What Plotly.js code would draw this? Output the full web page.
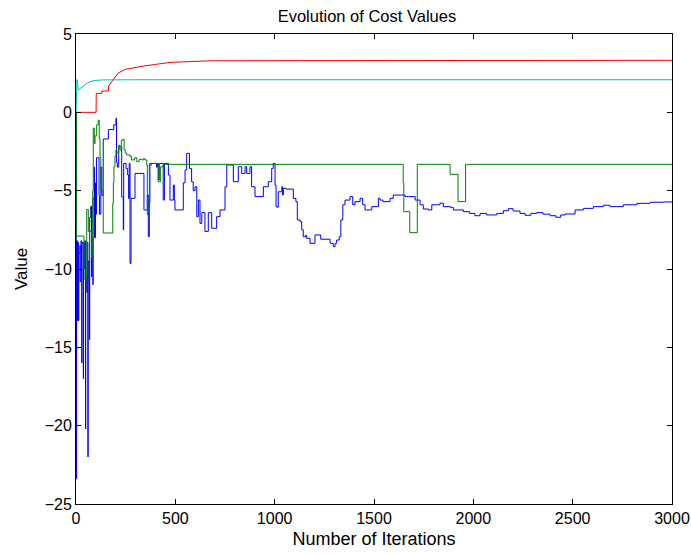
<!DOCTYPE html>
<html>
<head>
<meta charset="utf-8">
<script src="https://cdn.plot.ly/plotly-3.0.1.min.js"></script>
<style>html,body{margin:0;padding:0;background:#fff;}#chart{width:691px;height:554px;}</style>
</head>
<body>
<div id="chart"></div>
<script>
// Blue series (stepwise, value holds until next iteration)
const blueIter = [0,1,3,7,8,13,14,20,21,25,29,30,37,38,43,48,49,55,56,60,61,66,68,69,74,78,80,85,86,92,93,98,100,103,116,118,125,130,137,163,190,201,204,208,215,230,238,240,252,260,265,268,272,277,297,342,359,364,369,372,405,410,414,419,439,445,465,473,490,495,498,540,549,557,571,582,590,599,608,616,624,633,649,666,683,708,725,750,759,792,817,834,851,859,876,884,901,943,968,985,993,1002,1007,1013,1018,1036,1040,1044,1057,1094,1107,1114,1128,1136,1144,1155,1161,1178,1203,1232,1279,1295,1304,1312,1325,1333,1343,1354,1379,1393,1404,1430,1443,1455,1489,1522,1530,1545,1581,1597,1656,1673,1707,1732,1748,1773,1791,1832,1849,1883,1899,1950,1980,2008,2034,2067,2118,2151,2176,2200,2235,2260,2290,2319,2350,2386,2416,2440,2462,2512,2554,2604,2654,2688,2755,2823,2890,2956,3000];
const blueVal = [0,-23.4,-8.2,-13.3,-8.3,-13.3,-9,-8.5,-10.8,-8.2,-16,-8.3,-17,-10,-8.2,-20.2,-10.5,-11.5,-8.3,-22,-9.5,-10.8,-14.5,-6.7,-6,-10.5,-8,-11,-5.5,-3.5,-8,-4.5,-6.5,-2.9,-5.3,-6.5,-3.5,-5.3,-1.7,-1.1,-0.8,-0.38,-3.2,-3.5,-2.2,-5.4,-7.5,-3.26,-3.58,-4,-5.5,-3.26,-9.64,-5.49,-3.9,-6.23,-5.28,-7.94,-5.8,-3.26,-3.5,-3.26,-4.32,-3.26,-5.6,-3.26,-4,-5.6,-4.64,-5.6,-6.23,-4.5,-3.68,-2.62,-3.58,-4.43,-5,-4.75,-6.66,-5.6,-7.09,-6.4,-7.6,-6.4,-7.4,-6.66,-6.23,-4.75,-3.36,-4.43,-3.47,-3.9,-3.47,-3.9,-3.47,-4.75,-5.38,-4.75,-4.43,-3.58,-3.26,-4.64,-6.02,-6.06,-5.07,-4.75,-5.28,-4.85,-4.9,-5.5,-5.7,-6.87,-6.98,-7.5,-7.94,-7.85,-8.04,-8.36,-7.83,-8.1,-8.36,-8.57,-8.36,-8.15,-7.94,-6.87,-5.9,-5.6,-5.38,-5.9,-5.7,-5.49,-5.9,-6.23,-6.02,-5.49,-5.6,-5.7,-5.49,-5.28,-5.38,-5.38,-5.6,-5.9,-6.17,-6.23,-5.9,-5.8,-6.02,-6.06,-6.23,-6.34,-6.45,-6.6,-6.45,-6.55,-6.45,-6.28,-6.15,-6.3,-6.45,-6.57,-6.45,-6.4,-6.5,-6.6,-6.7,-6.55,-6.49,-6.23,-6.13,-6.02,-5.93,-6.02,-5.9,-5.81,-5.74,-5.72,-5.7];

// Green series (stepwise)
const greenIter = [0,2,40,45,54,62,79,84,87,92,96,104,112,117,121,125,137,185,188,191,196,201,206,215,221,228,235,242,248,255,272,280,295,306,318,331,340,347,356,359,369,381,414,426,440,1647,1650,1680,1718,1883,1923,1961,3000];
const greenVal = [0,-7.9,-8.25,-10.7,-6.2,-7.6,-9.3,-5,-1.0,-2,-1.5,-0.8,-0.5,-1.7,-2.9,-5,-7.7,-5.8,-4.5,-3.47,-2.8,-2.4,-2.6,-2.1,-2.4,-1.8,-1.72,-2.4,-2.6,-2.72,-2.83,-3.04,-2.9,-3.15,-3.0,-3.04,-2.95,-3.04,-3.36,-6.55,-3.36,-3.26,-4.43,-3.47,-3.32,-4.5,-6.34,-7.68,-3.32,-3.96,-5.7,-3.32,-3.32];

// Red series
const redIter = [0,101,102,129,130,163,164,188,212,247,338,474,676,1130,2000,3000];
const redVal = [0,0,1.21,1.21,1.36,1.36,1.68,2.06,2.5,2.74,2.95,3.19,3.29,3.3,3.31,3.32];

// Cyan series
const cyanIter = [0,5,12,25,40,54,70,87,110,137,300,3000];
const cyanVal = [0,2.1,1.42,1.55,1.72,1.85,1.95,2.02,2.05,2.07,2.08,2.08];

const xTicks = [0,500,1000,1500,2000,2500,3000];
const yTicks = [-25,-20,-15,-10,-5,0,5];

const FONT = 'Liberation Sans, Arial, Helvetica, sans-serif';

const traces = [
  {x: blueIter, y: blueVal, mode: 'lines', line: {color: 'rgb(0,0,255)', width: 1, shape: 'hv'}, hoverinfo: 'skip'},
  {x: greenIter, y: greenVal, mode: 'lines', line: {color: 'rgb(0,128,0)', width: 1, shape: 'hv'}, hoverinfo: 'skip'},
  {x: redIter, y: redVal, mode: 'lines', line: {color: 'rgb(255,0,0)', width: 1}, hoverinfo: 'skip'},
  {x: cyanIter, y: cyanVal, mode: 'lines', line: {color: 'rgb(0,191,191)', width: 1}, hoverinfo: 'skip'}
];

const axisCommon = {
  showgrid: false, zeroline: false, showline: true, linecolor: '#000', linewidth: 1,
  mirror: 'ticks', ticks: 'inside', ticklen: 5, tickwidth: 1, tickcolor: '#000',
  tickfont: {family: FONT, size: 16, color: '#000'}
};

const layout = {
  width: 691, height: 554,
  margin: {l: 76, r: 19, t: 34, b: 50, pad: 0},
  paper_bgcolor: '#fff', plot_bgcolor: '#fff',
  showlegend: false,
  font: {family: FONT, color: '#000'},
  title: {text: 'Evolution of Cost Values', font: {family: FONT, size: 16.5, color: '#000'}, x: 0.531, xanchor: 'center', y: 0.971, yanchor: 'middle'},
  xaxis: Object.assign({}, axisCommon, {
    range: [0, 3000], tickvals: xTicks, ticktext: xTicks.map(String),
    title: {text: 'Number of Iterations', font: {family: FONT, size: 18, color: '#000'}, standoff: 6}
  }),
  yaxis: Object.assign({}, axisCommon, {
    range: [-25, 5], tickvals: yTicks,
    title: {text: 'Value', font: {family: FONT, size: 17, color: '#000'}, standoff: 12}
  })
};

Plotly.newPlot('chart', traces, layout, {staticPlot: true, displayModeBar: false});
</script>
</body>
</html>
